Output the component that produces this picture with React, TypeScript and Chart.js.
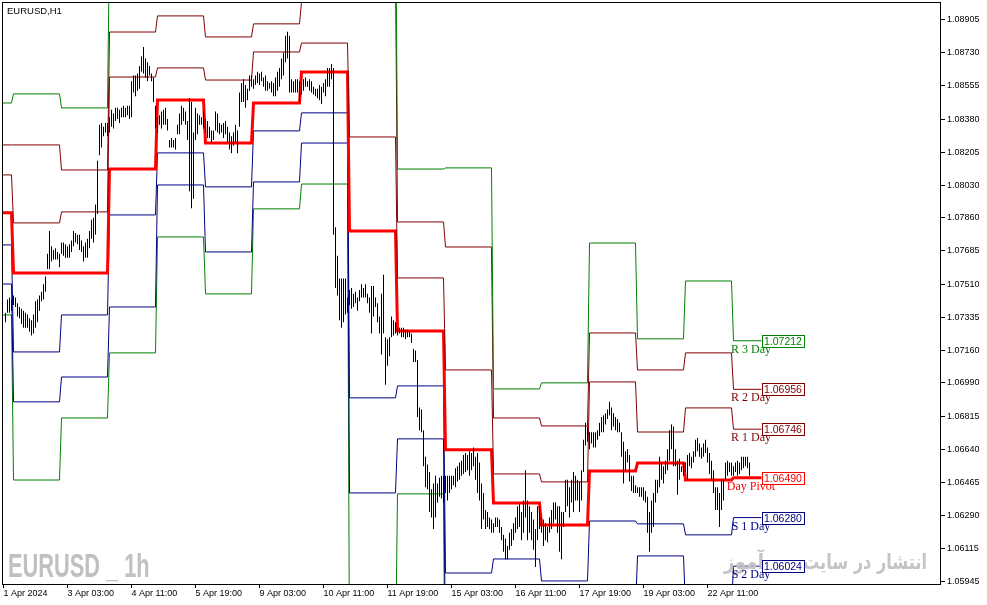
import React, { useEffect, useRef } from 'react';
import { Chart, registerables } from 'chart.js';

Chart.register(...registerables);

// ---------------- data ----------------
// hourly bars, index 0 = 2 Apr 2024 00:00 (first visible bar is index -4 = 1 Apr 20:00)
const FIRST_BAR = -4;

const barHigh: number[] = [
  // 1 Apr
  1.0736, 1.0743, 1.0744, 1.0743,
  // 2 Apr
  1.0745, 1.0744, 1.0741, 1.0739, 1.0738, 1.0737, 1.0736, 1.0735, 1.0733, 1.0732, 1.0735, 1.0742,
  1.0743, 1.0745, 1.0747, 1.0751, 1.0755, 1.0767, 1.0779, 1.0771, 1.0769, 1.0770, 1.0768, 1.0767,
  // 3 Apr
  1.0773, 1.0773, 1.0772, 1.0771, 1.0772, 1.0774, 1.0779, 1.0778, 1.0777, 1.0777, 1.0774, 1.0771,
  1.0773, 1.0775, 1.0779, 1.0785, 1.0786, 1.0793, 1.0816, 1.0835, 1.0836, 1.0834, 1.0836, 1.0836,
  // 4 Apr
  1.0839, 1.0843, 1.0841, 1.0844, 1.0844, 1.0843, 1.0844, 1.0845, 1.0844, 1.0845, 1.0845, 1.0858,
  1.0861, 1.0861, 1.0862, 1.0866, 1.0871, 1.0876, 1.0870, 1.0868, 1.0866, 1.0862, 1.0860, 1.0845,
  // 5 Apr
  1.0839, 1.0840, 1.0842, 1.0843, 1.0844, 1.0838, 1.0827, 1.0828, 1.0827, 1.0828, 1.0835, 1.0841,
  1.0845, 1.0844, 1.0842, 1.0837, 1.0849, 1.0847, 1.0831, 1.0844, 1.0841, 1.0840, 1.0839, 1.0842,
  // 8 Apr
  1.0838, 1.0837, 1.0834, 1.0832, 1.0832, 1.0842, 1.0841, 1.0836, 1.0835, 1.0836, 1.0837, 1.0834,
  1.0831, 1.0829, 1.0831, 1.0835, 1.0832, 1.0852, 1.0857, 1.0859, 1.0856, 1.0854, 1.0861, 1.0861,
  // 9 Apr
  1.0859, 1.0861, 1.0863, 1.0862, 1.0863, 1.0860, 1.0861, 1.0858, 1.0857, 1.0858, 1.0857, 1.0860,
  1.0863, 1.0865, 1.0870, 1.0873, 1.0882, 1.0884, 1.0882, 1.0859, 1.0858, 1.0859, 1.0859, 1.0858,
  // 10 Apr
  1.0857, 1.0859, 1.0860, 1.0858, 1.0859, 1.0858, 1.0855, 1.0854, 1.0854, 1.0856, 1.0855, 1.0857,
  1.0859, 1.0865, 1.0865, 1.0867, 1.0865, 1.0781, 1.0766, 1.0754, 1.0754, 1.0754, 1.0754, 1.0744,
  // 11 Apr
  1.0748, 1.0749, 1.0746, 1.0747, 1.0744, 1.0748, 1.0751, 1.0749, 1.0751, 1.0746, 1.0744, 1.0750,
  1.0750, 1.0744, 1.0741, 1.0734, 1.0746, 1.0756, 1.0723, 1.0722, 1.0723, 1.0734, 1.0732, 1.0731,
  // 12 Apr
  1.0728, 1.0728, 1.0728, 1.0728, 1.0727, 1.0727, 1.0726, 1.0725, 1.0717, 1.0716, 1.0711, 1.0686,
  1.0685, 1.0674, 1.0660, 1.0656, 1.0652, 1.0643, 1.0646, 1.0650, 1.0646, 1.0649, 1.0650, 1.0650,
  // 15 Apr
  1.0650, 1.0650, 1.0650, 1.0650, 1.0650, 1.0654, 1.0655, 1.0657, 1.0658, 1.0661, 1.0662, 1.0661,
  1.0663, 1.0662, 1.0665, 1.0660, 1.0662, 1.0657, 1.0646, 1.0641, 1.0632, 1.0631, 1.0628, 1.0627,
  // 16 Apr
  1.0625, 1.0628, 1.0628, 1.0627, 1.0623, 1.0619, 1.0617, 1.0613, 1.0620, 1.0622, 1.0625, 1.0628,
  1.0634, 1.0635, 1.0631, 1.0637, 1.0653, 1.0637, 1.0634, 1.0631, 1.0627, 1.0622, 1.0634, 1.0634,
  // 17 Apr
  1.0628, 1.0627, 1.0625, 1.0623, 1.0628, 1.0632, 1.0636, 1.0636, 1.0634, 1.0634, 1.0631, 1.0631,
  1.0648, 1.0648, 1.0644, 1.0648, 1.0652, 1.0650, 1.0648, 1.0647, 1.0653, 1.0669, 1.0678, 1.0676,
  // 18 Apr
  1.0673, 1.0673, 1.0673, 1.0673, 1.0674, 1.0678, 1.0681, 1.0682, 1.0683, 1.0685, 1.0689, 1.0686,
  1.0683, 1.0681, 1.0680, 1.0678, 1.0673, 1.0668, 1.0663, 1.0664, 1.0661, 1.0650, 1.0650, 1.0645,
  // 19 Apr
  1.0644, 1.0644, 1.0644, 1.0644, 1.0642, 1.0639, 1.0631, 1.0637, 1.0641, 1.0648, 1.0648, 1.0660,
  1.0657, 1.0655, 1.0658, 1.0664, 1.0674, 1.0677, 1.0676, 1.0664, 1.0658, 1.0659, 1.0655, 1.0657,
  // 22 Apr
  1.0657, 1.0661, 1.0662, 1.0660, 1.0663, 1.0669, 1.0670, 1.0667, 1.0665, 1.0667, 1.0669, 1.0665,
  1.0662, 1.0658, 1.0653, 1.0644, 1.0644, 1.0641, 1.0648, 1.0648, 1.0657, 1.0658, 1.0657, 1.0657,
  // 23 Apr
  1.0655, 1.0657, 1.0658, 1.0657, 1.0660, 1.0660, 1.0660, 1.0660, 1.0657,
];

const barLow: number[] = [
  // 1 Apr
  1.0731, 1.0736, 1.0736, 1.0737,
  // 2 Apr
  1.0740, 1.0739, 1.0734, 1.0733, 1.0730, 1.0728, 1.0728, 1.0728, 1.0726, 1.0724, 1.0725, 1.0728,
  1.0731, 1.0737, 1.0742, 1.0743, 1.0747, 1.0759, 1.0759, 1.0763, 1.0764, 1.0764, 1.0764, 1.0760,
  // 3 Apr
  1.0767, 1.0766, 1.0765, 1.0765, 1.0765, 1.0768, 1.0771, 1.0773, 1.0772, 1.0769, 1.0768, 1.0763,
  1.0765, 1.0765, 1.0770, 1.0775, 1.0773, 1.0777, 1.0788, 1.0819, 1.0823, 1.0829, 1.0831, 1.0829,
  // 4 Apr
  1.0831, 1.0834, 1.0833, 1.0837, 1.0838, 1.0836, 1.0839, 1.0839, 1.0839, 1.0840, 1.0838, 1.0839,
  1.0852, 1.0850, 1.0853, 1.0854, 1.0863, 1.0862, 1.0860, 1.0858, 1.0861, 1.0858, 1.0847, 1.0833,
  // 5 Apr
  1.0831, 1.0835, 1.0833, 1.0835, 1.0835, 1.0832, 1.0823, 1.0823, 1.0823, 1.0822, 1.0830, 1.0830,
  1.0835, 1.0837, 1.0835, 1.0827, 1.0800, 1.0791, 1.0796, 1.0827, 1.0830, 1.0835, 1.0835, 1.0833,
  // 8 Apr
  1.0831, 1.0828, 1.0828, 1.0826, 1.0827, 1.0832, 1.0831, 1.0830, 1.0831, 1.0828, 1.0830, 1.0826,
  1.0822, 1.0820, 1.0824, 1.0826, 1.0820, 1.0834, 1.0847, 1.0847, 1.0844, 1.0848, 1.0853, 1.0855,
  // 9 Apr
  1.0854, 1.0856, 1.0857, 1.0856, 1.0858, 1.0855, 1.0853, 1.0853, 1.0854, 1.0852, 1.0850, 1.0850,
  1.0853, 1.0855, 1.0859, 1.0861, 1.0868, 1.0870, 1.0852, 1.0852, 1.0852, 1.0852, 1.0852, 1.0847,
  // 10 Apr
  1.0851, 1.0853, 1.0855, 1.0855, 1.0853, 1.0852, 1.0851, 1.0850, 1.0849, 1.0848, 1.0846, 1.0852,
  1.0850, 1.0855, 1.0855, 1.0859, 1.0777, 1.0749, 1.0745, 1.0732, 1.0728, 1.0731, 1.0735, 1.0736,
  // 11 Apr
  1.0740, 1.0738, 1.0739, 1.0741, 1.0737, 1.0742, 1.0744, 1.0744, 1.0744, 1.0741, 1.0736, 1.0725,
  1.0734, 1.0739, 1.0731, 1.0725, 1.0714, 1.0725, 1.0698, 1.0708, 1.0713, 1.0723, 1.0724, 1.0725,
  // 12 Apr
  1.0724, 1.0725, 1.0723, 1.0723, 1.0722, 1.0723, 1.0723, 1.0720, 1.0710, 1.0710, 1.0681, 1.0674,
  1.0673, 1.0655, 1.0644, 1.0643, 1.0631, 1.0628, 1.0622, 1.0628, 1.0636, 1.0639, 1.0638, 1.0636,
  // 15 Apr
  1.0641, 1.0637, 1.0641, 1.0643, 1.0645, 1.0644, 1.0647, 1.0648, 1.0650, 1.0651, 1.0652, 1.0653,
  1.0650, 1.0653, 1.0655, 1.0648, 1.0641, 1.0637, 1.0622, 1.0627, 1.0622, 1.0623, 1.0622, 1.0620,
  // 16 Apr
  1.0620, 1.0623, 1.0623, 1.0620, 1.0616, 1.0610, 1.0606, 1.0606, 1.0611, 1.0613, 1.0616, 1.0620,
  1.0622, 1.0623, 1.0616, 1.0620, 1.0628, 1.0616, 1.0620, 1.0616, 1.0611, 1.0602, 1.0616, 1.0622,
  // 17 Apr
  1.0620, 1.0613, 1.0616, 1.0615, 1.0620, 1.0622, 1.0625, 1.0627, 1.0620, 1.0610, 1.0606, 1.0623,
  1.0631, 1.0634, 1.0628, 1.0636, 1.0631, 1.0637, 1.0637, 1.0631, 1.0637, 1.0652, 1.0666, 1.0668,
  // 18 Apr
  1.0664, 1.0667, 1.0665, 1.0665, 1.0669, 1.0671, 1.0673, 1.0673, 1.0677, 1.0680, 1.0682, 1.0674,
  1.0676, 1.0674, 1.0673, 1.0673, 1.0660, 1.0646, 1.0653, 1.0657, 1.0647, 1.0642, 1.0641, 1.0641,
  // 19 Apr
  1.0641, 1.0639, 1.0639, 1.0637, 1.0636, 1.0620, 1.0610, 1.0620, 1.0623, 1.0636, 1.0641, 1.0644,
  1.0648, 1.0646, 1.0651, 1.0653, 1.0658, 1.0664, 1.0655, 1.0655, 1.0640, 1.0648, 1.0652, 1.0650,
  // 22 Apr
  1.0652, 1.0648, 1.0655, 1.0654, 1.0657, 1.0660, 1.0663, 1.0660, 1.0659, 1.0660, 1.0662, 1.0657,
  1.0651, 1.0648, 1.0641, 1.0632, 1.0632, 1.0623, 1.0632, 1.0637, 1.0648, 1.0650, 1.0652, 1.0650,
  // 23 Apr
  1.0650, 1.0652, 1.0650, 1.0651, 1.0653, 1.0654, 1.0655, 1.0654, 1.0650,
];

// daily pivot levels (one value per trading day)
const dayNames = ['1 Apr', '2 Apr', '3 Apr', '4 Apr', '5 Apr', '8 Apr', '9 Apr', '10 Apr', '11 Apr',
  '12 Apr', '15 Apr', '16 Apr', '17 Apr', '18 Apr', '19 Apr', '22 Apr', '23 Apr'];
const dayFirstBar = [-6, 0, 24, 48, 72, 96, 120, 144, 168, 192, 216, 240, 264, 288, 312, 336, 360];
const LAST_LINE_BAR = 374;

const levelR3 = [1.08465, 1.08513, 1.08439, 1.09330, 1.09098, 1.09150, 1.09150, 1.09150, 1.09661,
  1.08117, 1.08123, 1.06958, 1.06990, 1.07727, 1.07222, 1.07527, 1.07212];
const levelR2 = [1.08244, 1.08244, 1.08112, 1.08839, 1.08924, 1.08813, 1.08882, 1.08997, 1.09166,
  1.07838, 1.07706, 1.06805, 1.06763, 1.07253, 1.07058, 1.07148, 1.06956];
const levelR1 = [1.08086, 1.07833, 1.07891, 1.08602, 1.08650, 1.08586, 1.08734, 1.08781, 1.08286,
  1.07543, 1.07058, 1.06510, 1.06468, 1.06995, 1.06731, 1.06858, 1.06746];
const levelPivot = [1.07886, 1.07569, 1.07569, 1.08117, 1.08481, 1.08254, 1.08465, 1.08629, 1.07791,
  1.07264, 1.06637, 1.06357, 1.06241, 1.06526, 1.06568, 1.06478, 1.06490];
const levelS1 = [1.07717, 1.07153, 1.07348, 1.07875, 1.08202, 1.08023, 1.08318, 1.08413, 1.06911,
  1.06974, 1.05988, 1.06062, 1.05946, 1.06262, 1.06247, 1.06189, 1.06280];
const levelS2 = [1.07511, 1.06890, 1.07021, 1.07390, 1.08033, 1.07680, 1.08049, 1.08254, 1.06410,
  1.06695, 1.05567, 1.05909, 1.05720, 1.05793, 1.06078, 1.05809, 1.06024];
const levelS3 = [1.07348, 1.06478, 1.06805, 1.07148, 1.07759, 1.07459, 1.07907, 1.08038, 1.05535,
  1.06405, 1.04918, 1.05614, 1.05424, 1.05530, 1.05762, 1.05519, 1.05814];

const xTickBars = [-5, 27, 59, 91, 123, 155, 187, 219, 251, 283, 315, 347];
const xTickLabels = ['1 Apr 2024', '3 Apr 03:00', '4 Apr 11:00', '5 Apr 19:00', '9 Apr 03:00',
  '10 Apr 11:00', '11 Apr 19:00', '15 Apr 03:00', '16 Apr 11:00', '17 Apr 19:00', '19 Apr 03:00',
  '22 Apr 11:00'];
const yTickValues = [1.08905, 1.0873, 1.08555, 1.0838, 1.08205, 1.0803, 1.0786, 1.07685, 1.0751,
  1.07335, 1.0716, 1.0699, 1.06815, 1.0664, 1.06465, 1.0629, 1.06115, 1.05945];

const X_MIN = -5.25;
const X_MAX = 463.75;
const Y_MIN = 1.0593;
const Y_MAX = 1.08992;

const levelDefs = [
  { name: 'R 3 Day', values: levelR3, color: '#008000', width: 1, label: true },
  { name: 'R 2 Day', values: levelR2, color: '#800000', width: 1, label: true },
  { name: 'R 1 Day', values: levelR1, color: '#800000', width: 1, label: true },
  { name: 'Day Pivot', values: levelPivot, color: '#ff0000', width: 3, label: true },
  { name: 'S 1 Day', values: levelS1, color: '#000080', width: 1, label: true },
  { name: 'S 2 Day', values: levelS2, color: '#000080', width: 1, label: true },
  { name: 'S 3 Day', values: levelS3, color: '#008000', width: 1, label: true },
];

function levelPoints(values: number[]) {
  const pts: { x: number; y: number }[] = [];
  values.forEach((v, i) => {
    const start = dayFirstBar[i];
    const end = i + 1 < dayFirstBar.length ? dayFirstBar[i + 1] - 1 : LAST_LINE_BAR;
    pts.push({ x: start, y: v }, { x: end, y: v });
  });
  return pts;
}

const decorPlugin = {
  id: 'mtDecor',
  afterDatasetsDraw(chart: any) {
    const { ctx, chartArea: ca, scales } = chart;
    const xs = scales.x;
    const ys = scales.y;
    ctx.save();
    ctx.beginPath();
    ctx.rect(ca.left, ca.top, ca.right - ca.left, ca.bottom - ca.top);
    ctx.clip();

    // watermark bottom-left
    ctx.save();
    ctx.fillStyle = '#c0c0c0';
    ctx.font = 'bold 33px "Liberation Sans"';
    ctx.textBaseline = 'alphabetic';
    ctx.textAlign = 'left';
    ctx.translate(8, 577);
    ctx.scale(0.66, 1);
    ctx.fillText('EURUSD _ 1h', 0, 0);
    ctx.restore();

    // persian watermark
    const drawFa = (t: string, right: number, width: number) => {
      ctx.save();
      ctx.fillStyle = '#c4c4c4';
      ctx.font = 'bold 21px "DejaVu Sans"';
      ctx.textBaseline = 'alphabetic';
      ctx.direction = 'rtl';
      ctx.textAlign = 'right';
      const w = ctx.measureText(t).width;
      ctx.translate(right, 569);
      ctx.scale(width / w, 1);
      ctx.fillText(t, 0, 0);
      ctx.restore();
    };
    drawFa('انتشار در سایت', 927, 124);
    drawFa('آموز', 764, 40);

    // level labels for current day
    const last = dayFirstBar.length - 1;
    const boxLeft = Math.round(xs.getPixelForValue(LAST_LINE_BAR));
    const items = levelDefs
      .filter((l) => l.label)
      .map((l) => ({ ...l, v: l.values[last], y: Math.round(ys.getPixelForValue(l.values[last])) }))
      .filter((it) => it.y > ca.top && it.y < ca.bottom);

    items.forEach((it) => {
      ctx.font = '12px "Liberation Serif"';
      ctx.fillStyle = it.color;
      ctx.textAlign = 'center';
      ctx.textBaseline = 'alphabetic';
      ctx.fillText(it.name, boxLeft - 11, it.y + 12);
    });
    items.forEach((it) => {
      const top = it.y - 6;
      ctx.fillStyle = '#ffffff';
      ctx.fillRect(boxLeft, top, 43, 13);
      ctx.strokeStyle = it.color;
      ctx.lineWidth = 1;
      ctx.strokeRect(boxLeft + 0.5, top + 0.5, 42, 12);
      ctx.fillStyle = it.color;
      ctx.font = '10.5px "Liberation Sans"';
      ctx.textAlign = 'left';
      ctx.textBaseline = 'middle';
      ctx.fillText(it.v.toFixed(5), boxLeft + 2, top + 7);
    });
    ctx.restore();
  },
  afterDraw(chart: any) {
    const { ctx, chartArea: ca } = chart;
    ctx.save();
    ctx.strokeStyle = '#000';
    ctx.lineWidth = 1;
    ctx.strokeRect(ca.left - 0.5, ca.top - 0.5, ca.right - ca.left, ca.bottom - ca.top + 1);
    ctx.fillStyle = '#000';
    ctx.font = '9.5px "Liberation Sans"';
    ctx.textAlign = 'left';
    ctx.textBaseline = 'alphabetic';
    ctx.fillText('EURUSD,H1', 7, 14);
    ctx.restore();
  },
};

export default function App() {
  const ref = useRef<HTMLCanvasElement | null>(null);

  useEffect(() => {
    if (!ref.current) return;
    const barData = barHigh.map((h, i) => ({ x: FIRST_BAR + i, y: [barLow[i], h] }));
    const lineSets = levelDefs.map((l) => ({
      type: 'line' as const,
      label: l.name,
      data: levelPoints(l.values),
      borderColor: l.color,
      borderWidth: l.width,
      pointRadius: 0,
      tension: 0,
      fill: false,
      clip: 0,
      order: 2,
    }));
    const chart = new Chart(ref.current, {
      type: 'line',
      data: {
        datasets: [
          {
            type: 'bar' as const,
            label: 'EURUSD',
            data: barData as any,
            backgroundColor: '#000000',
            borderWidth: 0,
            barThickness: 1,
            inflateAmount: 0,
            grouped: false,
            clip: 0,
            order: 1,
          } as any,
          ...lineSets,
        ],
      },
      options: {
        animation: false,
        responsive: false,
        devicePixelRatio: 1,
        events: [],
        layout: { padding: { left: 3, top: 3, right: 0, bottom: 0 } },
        plugins: { legend: { display: false }, tooltip: { enabled: false }, title: { display: false } },
        scales: {
          x: {
            type: 'linear',
            position: 'bottom',
            offset: false,
            min: X_MIN,
            max: X_MAX,
            afterBuildTicks: (s: any) => {
              s.ticks = xTickBars.map((v) => ({ value: v }));
            },
            afterFit: (s: any) => {
              s.height = 21;
              s.paddingLeft = 0;
              s.paddingRight = 0;
            },
            ticks: {
              callback: (_v: any, i: number) => xTickLabels[i],
              autoSkip: false,
              maxRotation: 0,
              minRotation: 0,
              align: 'start',
              padding: 0,
              color: '#000',
              font: { family: 'Liberation Sans', size: 9 },
            },
            grid: { offset: false, drawOnChartArea: false, drawTicks: true, tickLength: 4, color: '#000' },
            border: { display: false },
          },
          y: {
            type: 'linear',
            position: 'right',
            min: Y_MIN,
            max: Y_MAX,
            afterBuildTicks: (s: any) => {
              s.ticks = yTickValues.map((v) => ({ value: v }));
            },
            afterFit: (s: any) => {
              s.width = 46;
              s.paddingTop = 0;
              s.paddingBottom = 0;
            },
            ticks: {
              callback: (v: any) => Number(v).toFixed(5),
              autoSkip: false,
              padding: 2,
              color: '#000',
              font: { family: 'Liberation Sans', size: 9 },
            },
            grid: { drawOnChartArea: false, drawTicks: true, tickLength: 4, color: '#000' },
            border: { display: false },
          },
        },
      } as any,
      plugins: [decorPlugin],
    });
    return () => chart.destroy();
  }, []);

  return (
    <div style={{ position: 'absolute', left: 0, top: 0, width: 987, height: 605, background: '#fff' }}>
      <canvas ref={ref} width={987} height={605} style={{ display: 'block', width: 987, height: 605 }} />
    </div>
  );
}
